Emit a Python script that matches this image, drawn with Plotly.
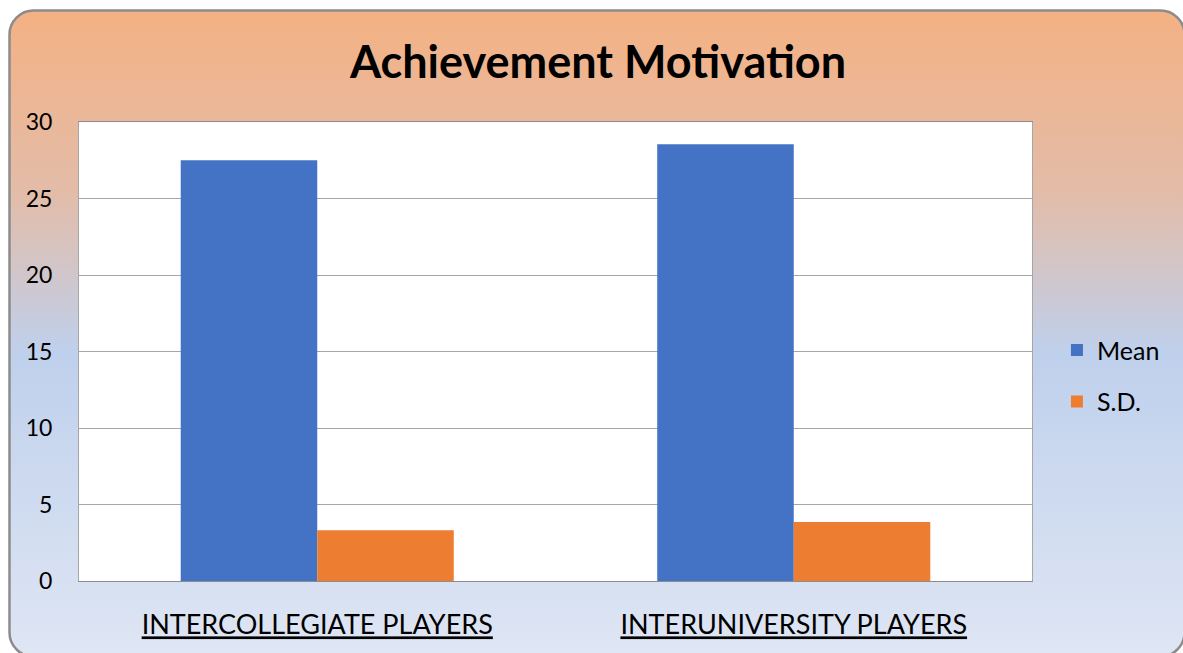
import base64
import plotly.graph_objects as go

categories = ["INTERCOLLEGIATE PLAYERS", "INTERUNIVERSITY PLAYERS"]
mean_values = [27.5, 28.55]
sd_values = [3.32, 3.85]
series_names = ["Mean", "S.D."]
y_ticks = [0, 5, 10, 15, 20, 25, 30]
title_text = "Achievement Motivation"

W, H = 1183, 653
L, R, T, B = 79, 151, 122, 72
pw, ph = W - L - R, H - T - B

svg = f'''<svg xmlns="http://www.w3.org/2000/svg" width="{W}" height="{H}" viewBox="0 0 {W} {H}" preserveAspectRatio="none">
<defs><linearGradient id="g" x1="0" y1="0" x2="0" y2="1">
<stop offset="0" stop-color="#F4B183"/>
<stop offset="0.28" stop-color="#E3BCA8"/>
<stop offset="0.53" stop-color="#BFD0EC"/>
<stop offset="1" stop-color="#DFE6F4"/>
</linearGradient></defs>
<rect x="9.5" y="10.5" width="1175" height="646" rx="24" ry="24" fill="url(#g)" stroke="#8C8C8C" stroke-width="2.5"/>
</svg>'''
src = "data:image/svg+xml;base64," + base64.b64encode(svg.encode()).decode()

font_family = "Lato, 'Open Sans', sans-serif"

fig = go.Figure()
fig.add_trace(go.Bar(x=categories, y=mean_values, name=series_names[0],
                     marker=dict(color="#4472C4", line=dict(width=0)), legendgroup="a"))
fig.add_trace(go.Bar(x=categories, y=sd_values, name=series_names[1],
                     marker=dict(color="#ED7D31", line=dict(width=0)), legendgroup="b"))

fig.update_layout(
    width=W, height=H,
    margin=dict(l=L, r=R, t=T, b=B, pad=0),
    paper_bgcolor="white",
    plot_bgcolor="white",
    barmode="group", bargap=0.427, bargroupgap=0,
    font=dict(family=font_family, color="#000000"),
    title=dict(text="<b>" + title_text + "</b>", font=dict(size=45, family=font_family, color="#000000"),
               x=598 / W, xref="container", xanchor="center",
               y=1 - 62 / H, yref="container", yanchor="middle"),
    legend=dict(x=1.022 + 4 / pw, xanchor="left", y=0.447, yanchor="middle",
                font=dict(size=25, family=font_family), bgcolor="rgba(0,0,0,0)",
                tracegroupgap=16, traceorder="grouped", itemwidth=30),
    images=[dict(source=src, xref="paper", yref="paper", x=-L / pw, y=1 + T / ph,
                 sizex=W / pw, sizey=H / ph, sizing="stretch", xanchor="left", yanchor="top",
                 layer="below")],
    shapes=[dict(type="rect", xref="x domain", yref="y domain", x0=0, x1=1, y0=0, y1=1,
                 fillcolor="white", line=dict(width=0), layer="below")],
    showlegend=True,
)
fig.update_xaxes(
    tickmode="array", tickvals=categories, ticktext=["<u>" + c + "</u>" for c in categories],
    tickfont=dict(size=27, family=font_family, color="#000000"),
    showline=True, linecolor="#8C8C8C", linewidth=1, mirror=True,
    showgrid=False, ticks="", ticklabelstandoff=20,
)
fig.update_yaxes(
    range=[0, 30], tickvals=y_ticks, tickfont=dict(size=23, family=font_family, color="#000000"),
    showgrid=True, gridcolor="#A6A6A6", gridwidth=1,
    showline=True, linecolor="#A6A6A6", linewidth=1, mirror=True,
    zeroline=False, ticks="", ticklabelstandoff=21,
)
fig.write_html("out.html", config={"displayModeBar": False},
               post_script="document.body.style.margin='0';document.body.style.overflow='hidden';")
